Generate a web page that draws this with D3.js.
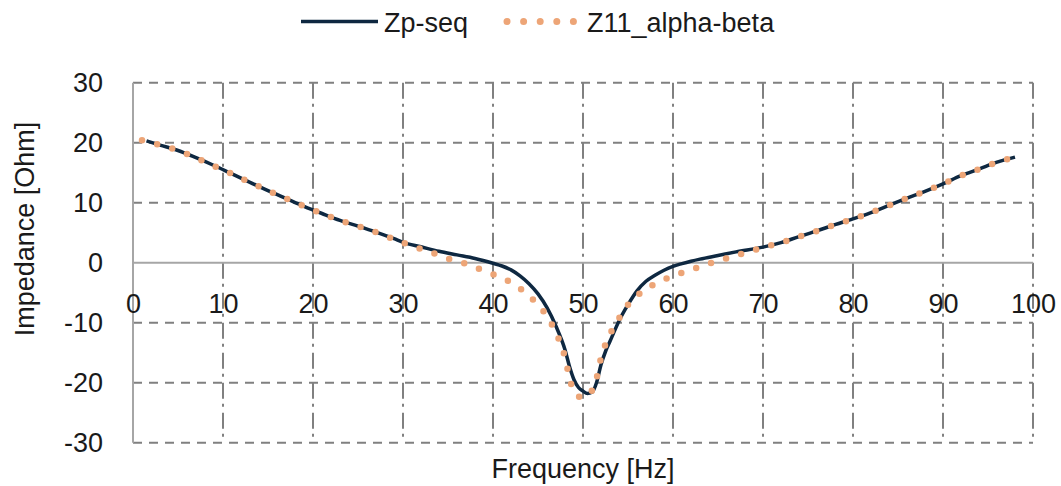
<!DOCTYPE html>
<html>
<head>
<meta charset="utf-8">
<script src="https://cdn.jsdelivr.net/npm/d3@7"></script>
<style>
  html, body { margin: 0; padding: 0; background: #ffffff; }
  svg { display: block; }
  text { font-family: "Liberation Sans", Arial, sans-serif; fill: #1a1a1a; }
</style>
</head>
<body>
<svg id="chart" width="1061" height="486"></svg>
<script>
// Frequency sweep of the positive-sequence impedance (Zp-seq)
const freqZp = [1.5, 3, 5, 7, 9, 11, 13, 15, 17, 19, 21, 23, 25, 27, 29, 30, 32, 34, 36, 38, 40, 41, 42, 43, 44, 45, 46, 47, 48, 48.5, 49, 49.5, 50, 50.5, 51, 51.5, 52, 52.5, 53, 54, 55, 56, 57, 58, 59, 60, 61, 62, 63, 65, 67, 70, 72, 74, 76, 78, 80, 82, 84, 86, 88, 90, 92, 94, 96, 98];
const valZp = [20.3, 19.6, 18.7, 17.5, 16.2, 14.8, 13.4, 12.0, 10.7, 9.4, 8.2, 7.05, 6.1, 5.1, 4.0, 3.4, 2.65, 1.9, 1.3, 0.7, -0.1, -0.55, -1.2, -2.2, -3.5, -5.2, -7.5, -10.6, -14.5, -17.3, -19.5, -20.8, -21.4, -21.8, -21.6, -20.0, -17.0, -14.8, -13.1, -9.7, -7.0, -4.7, -3.1, -2.1, -1.25, -0.6, -0.15, 0.25, 0.6, 1.2, 1.8, 2.6, 3.35, 4.35, 5.3, 6.35, 7.3, 8.35, 9.55, 10.75, 11.9, 13.15, 14.5, 15.6, 16.75, 17.6];

// Same sweep for the alpha-beta frame impedance (Z11_alpha-beta)
const freqZab = [1, 3, 5, 7, 9, 11, 13, 15, 17, 19, 21, 23, 25, 27, 29, 31, 33, 35, 37, 39, 41, 42, 43, 44, 45, 46, 47, 48, 48.5, 49, 49.5, 50, 50.5, 51, 51.5, 52, 52.5, 53, 54, 55, 56, 57, 58, 59, 60, 62, 64, 66, 68, 70, 72, 74, 76, 78, 80, 82, 84, 86, 88, 90, 92, 94, 96, 98];
const valZab = [20.4, 19.6, 18.7, 17.5, 16.1, 14.8, 13.4, 12.0, 10.7, 9.4, 8.2, 7.05, 6.1, 5.1, 3.9, 2.8, 1.8, 0.7, -0.2, -1.35, -2.55, -3.3, -4.3, -5.5, -7.0, -8.9, -11.7, -15.8, -19.2, -21.6, -22.3, -22.5, -22.2, -21.3, -19.3, -15.9, -13.6, -11.9, -9.3, -7.0, -5.5, -4.4, -3.5, -2.8, -2.2, -1.2, -0.15, 0.75, 1.65, 2.55, 3.35, 4.35, 5.3, 6.35, 7.3, 8.35, 9.55, 10.75, 11.9, 13.15, 14.5, 15.6, 16.75, 17.6];

const seriesNames = ["Zp-seq", "Z11_alpha-beta"];
const seriesColors = ["#0e2841", "#eda577"];

const xTicks = [0, 10, 20, 30, 40, 50, 60, 70, 80, 90, 100];
const yTicks = [-30, -20, -10, 0, 10, 20, 30];
const xTitle = "Frequency [Hz]";
const yTitle = "Impedance [Ohm]";

const svg = d3.select("#chart");
const plot = { left: 133, right: 1033, top: 82.7, bottom: 442.7 };

const x = d3.scaleLinear().domain([0, 100]).range([plot.left, plot.right]);
const y = d3.scaleLinear().domain([-30, 30]).range([plot.bottom, plot.top]);

// Horizontal gridlines (dashed)
svg.append("g").selectAll("line")
  .data(yTicks.filter(d => d !== 0))
  .join("line")
  .attr("x1", plot.left).attr("x2", plot.right)
  .attr("y1", d => y(d)).attr("y2", d => y(d))
  .attr("stroke", "#808080").attr("stroke-width", 2)
  .attr("stroke-dasharray", "9,7");

// Vertical gridlines (long dash - dot)
svg.append("g").selectAll("line")
  .data(xTicks.filter(d => d !== 0))
  .join("line")
  .attr("x1", d => x(d)).attr("x2", d => x(d))
  .attr("y1", plot.top).attr("y2", plot.bottom)
  .attr("stroke", "#808080").attr("stroke-width", 2)
  .attr("stroke-dasharray", "16,5,3,6");

// Value axis line and zero line
svg.append("line")
  .attr("x1", plot.left).attr("x2", plot.left)
  .attr("y1", plot.top).attr("y2", plot.bottom)
  .attr("stroke", "#a6a6a6").attr("stroke-width", 2);
svg.append("line")
  .attr("x1", plot.left).attr("x2", plot.right)
  .attr("y1", y(0)).attr("y2", y(0))
  .attr("stroke", "#a6a6a6").attr("stroke-width", 2);

// Tick labels (plain hyphen for negatives)
const fmt = d => String(d);
const xAxis = d3.axisBottom(x).tickValues(xTicks).tickSize(0).tickPadding(31).tickFormat(fmt);
const gx = svg.append("g").attr("transform", `translate(0,${y(0)})`).call(xAxis);
gx.select(".domain").remove();
gx.selectAll("text").style("font-size", "27px").attr("fill", "#1a1a1a")
  .style("font-family", "'Liberation Sans', Arial, sans-serif");

const yAxis = d3.axisLeft(y).tickValues(yTicks).tickSize(0).tickPadding(30).tickFormat(fmt);
const gy = svg.append("g").attr("transform", `translate(${plot.left},0)`).call(yAxis);
gy.select(".domain").remove();
gy.selectAll("text").style("font-size", "27px").attr("fill", "#1a1a1a")
  .style("font-family", "'Liberation Sans', Arial, sans-serif");

// Curves
const line = d3.line()
  .x(d => x(d[0]))
  .y(d => y(d[1]))
  .curve(d3.curveMonotoneX);

const zp = freqZp.map((f, i) => [f, valZp[i]]);
const zab = freqZab.map((f, i) => [f, valZab[i]]);

svg.append("path")
  .datum(zp)
  .attr("d", line)
  .attr("fill", "none")
  .attr("stroke", seriesColors[0])
  .attr("stroke-width", 3.5);

svg.append("path")
  .datum(zab)
  .attr("d", line)
  .attr("fill", "none")
  .attr("stroke", seriesColors[1])
  .attr("stroke-width", 6.5)
  .attr("stroke-linecap", "round")
  .attr("stroke-dasharray", "0,15.7");

// Axis titles
svg.append("text")
  .attr("x", (plot.left + plot.right) / 2)
  .attr("y", 478)
  .attr("text-anchor", "middle")
  .style("font-size", "27px")
  .text(xTitle);

svg.append("text")
  .attr("transform", `translate(34,229) rotate(-90)`)
  .attr("text-anchor", "middle")
  .style("font-size", "27px")
  .text(yTitle);

// Legend
const legend = svg.append("g");
legend.append("line")
  .attr("x1", 301).attr("x2", 378)
  .attr("y1", 21.5).attr("y2", 21.5)
  .attr("stroke", seriesColors[0]).attr("stroke-width", 3.5);
legend.append("text")
  .attr("x", 384).attr("y", 31.5)
  .style("font-size", "27px")
  .text(seriesNames[0]);
legend.append("line")
  .attr("x1", 507).attr("x2", 574)
  .attr("y1", 21.5).attr("y2", 21.5)
  .attr("stroke", seriesColors[1]).attr("stroke-width", 7)
  .attr("stroke-linecap", "round")
  .attr("stroke-dasharray", "0,16.6");
legend.append("text")
  .attr("x", 587).attr("y", 31.5)
  .style("font-size", "27px")
  .text(seriesNames[1]);
</script>
</body>
</html>
